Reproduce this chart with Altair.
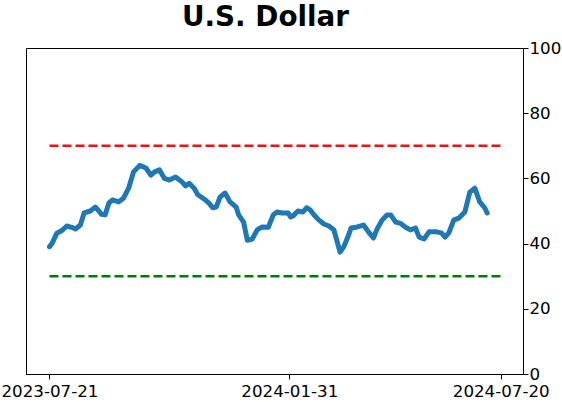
import altair as alt
import pandas as pd

# Days since 2023-07-21 and indicator values
days = [0, 2, 6, 10, 14, 18, 21, 25, 28, 33, 37, 40, 42, 45, 48, 51, 56, 60, 64, 68,
        73, 78, 82, 85, 89, 93, 97, 102, 107, 110, 113, 117, 120, 125, 129, 132, 135, 138,
        142, 146, 151, 153, 157, 160, 164, 168, 172, 177, 181, 184, 188, 193, 195, 197,
        201, 205, 208, 211, 214, 218, 222, 226, 230, 233, 235, 238, 241, 244, 249, 254,
        258, 262, 265, 269, 273, 276, 280, 284, 288, 292, 296, 299, 303, 307, 313, 317,
        320, 323, 327, 331, 336, 340, 344, 348, 352, 354]
values = [39.0, 40.0, 43.2, 44.0, 45.4, 45.0, 44.5, 45.7, 49.4, 50.0, 51.2, 50.0, 49.0, 48.8,
          52.4, 53.4, 52.8, 54.0, 57.0, 62.0, 64.0, 63.2, 61.0, 62.0, 62.6, 60.0, 59.5,
          60.4, 59.0, 57.7, 58.5, 57.0, 55.0, 53.7, 52.4, 51.0, 51.3, 54.3, 55.5, 52.8,
          51.2, 48.8, 46.6, 41.0, 41.4, 44.2, 45.1, 45.0, 48.8, 49.7, 49.4, 49.4, 48.2,
          48.5, 50.0, 49.7, 51.0, 50.3, 48.8, 47.2, 46.0, 45.4, 44.2, 40.2, 37.4, 39.0,
          41.7, 44.8, 45.1, 45.7, 43.6, 41.7, 44.5, 47.2, 48.8, 48.8, 46.6, 46.2, 45.0,
          44.2, 44.8, 42.0, 41.4, 43.6, 43.6, 43.3, 42.0, 43.3, 47.2, 47.8, 49.7, 55.8,
          57.0, 52.8, 51.0, 49.4]

tick_dates = ["2023-07-21", "2024-01-31", "2024-07-20"]
ref_levels = [70, 30]
ref_colors = ["#ee1111", "#007a00"]

base = pd.Timestamp("2023-07-21")
df = pd.DataFrame({
    "date": (base + pd.to_timedelta(days, unit="D")).strftime("%Y-%m-%d"),
    "value": values,
})
ref_df = pd.DataFrame({
    "start": [tick_dates[0]] * 2,
    "end": [tick_dates[-1]] * 2,
    "level": ref_levels,
    "color": ref_colors,
})


def dt(s):
    t = pd.Timestamp(s)
    return alt.DateTime(year=t.year, month=t.month, date=t.day, utc=True)


xscale = alt.Scale(type="utc", domain=[dt("2023-07-02"), dt("2024-08-07")])
yscale = alt.Scale(domain=[0, 100])

xaxis = alt.Axis(values=[dt(d) for d in tick_dates],
                 labelExpr="utcFormat(datum.value, '%Y-%m-%d')",
                 title=None, grid=False, labelFontSize=16.7, labelFont="DejaVu Sans",
                 labelColor="black", domainColor="black", tickColor="black",
                 tickSize=5, labelPadding=4, labelFlush=False)
yaxis = alt.Axis(orient="right", values=[0, 20, 40, 60, 80, 100], title=None, grid=False,
                 labelFontSize=16.7, labelFont="DejaVu Sans", labelColor="black",
                 domainColor="black", tickColor="black", tickSize=5, labelPadding=1)

line = alt.Chart(df).mark_line(color="#1f77b4", strokeWidth=5, strokeCap="round",
                               strokeJoin="round").encode(
    x=alt.X("date:T", scale=xscale, axis=xaxis),
    y=alt.Y("value:Q", scale=yscale, axis=yaxis),
)

rules = alt.Chart(ref_df).mark_rule(strokeWidth=2.5, strokeDash=[9, 4]).encode(
    x=alt.X("start:T", scale=xscale, axis=xaxis),
    x2="end:T",
    y=alt.Y("level:Q", scale=yscale, axis=yaxis),
    color=alt.Color("color:N", scale=None),
)

chart = alt.layer(rules, line).properties(
    width=497,
    height=326,
    autosize=alt.AutoSizeParams(type="none"),
    padding={"left": 26, "top": 48, "right": 39, "bottom": 28},
    title=alt.TitleParams("U.S. Dollar", fontSize=27.8, font="DejaVu Sans", fontWeight="bold",
                          anchor="middle", dx=-9, offset=8, color="black"),
).configure_view(stroke="black", strokeWidth=1)

chart.save("out.html", embed_options={"renderer": "svg", "actions": False})
